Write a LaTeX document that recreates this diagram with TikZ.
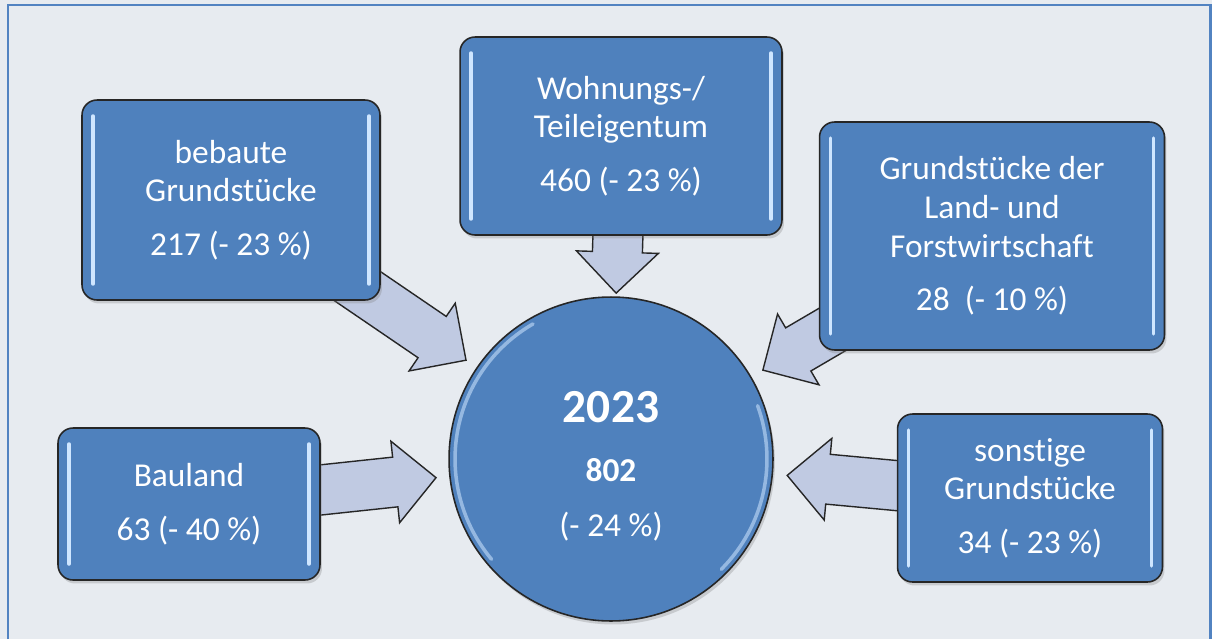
\documentclass[tikz,border=0pt]{standalone}
\usepackage{fontspec}
\setmainfont{Carlito}[Ligatures=NoCommon]
\usetikzlibrary{calc,shadows}
\definecolor{boxblue}{HTML}{4F81BD}
\definecolor{paper}{HTML}{E7EBF0}
\definecolor{framecol}{HTML}{5283C1}
\definecolor{arrowfill}{HTML}{C0CAE2}
\definecolor{glint}{HTML}{CFE6FF}
\pgfdeclarelayer{back}
\pgfdeclarelayer{arrows}
\pgfsetlayers{back,arrows,main}

% fat block arrow from #1 (tail) to #2 (tip)
\newcommand\fatarrow[2]{%
  \draw[blockarr] let \p1=($(#2)-(#1)$), \n1={atan2(\y1,\x1)}, \n2={veclen(\x1,\y1)} in
    (#2) -- ++({\n1+135}:1.16cm) -- ++({\n1-90}:0.32cm)
    -- ++({\n1+180}:{\n2-23.25pt}) -- ++({\n1-90}:1cm)
    -- ++({\n1}:{\n2-23.25pt}) -- ++({\n1-90}:0.32cm) -- cycle;}

\tikzset{
  gloss/.style={draw=glint,line width=2pt,line cap=round},
  box/.style={draw=black!85,line width=0.9pt,rounded corners=0.3cm,fill=boxblue,
    text=white,align=center,font=\fontsize{19}{22}\selectfont,inner sep=0pt,
    drop shadow={shadow xshift=0.04cm,shadow yshift=-0.07cm,opacity=0.3},
    path picture={
      \draw[gloss] ([shift={(0.22cm,-0.32cm)}]path picture bounding box.north west)
        -- ([shift={(0.22cm,0.32cm)}]path picture bounding box.south west);
      \draw[gloss] ([shift={(-0.22cm,-0.32cm)}]path picture bounding box.north east)
        -- ([shift={(-0.22cm,0.32cm)}]path picture bounding box.south east);}},
  hub/.style={circle,draw=black!85,line width=0.9pt,fill=boxblue,minimum size=6.48cm,
    inner sep=0pt,drop shadow={shadow xshift=0.04cm,shadow yshift=-0.07cm,opacity=0.3},
    path picture={
      \draw[gloss,opacity=0.55] (path picture bounding box.center) ++(120:3.12cm)
        arc[start angle=120,end angle=220,radius=3.12cm];
      \draw[gloss,opacity=0.55] (path picture bounding box.center) ++(-45:3.12cm)
        arc[start angle=-45,end angle=20,radius=3.12cm];}},
  hubtext/.style={text=white,align=center,font=\fontsize{19}{22}\selectfont},
  blockarr/.style={fill=arrowfill,draw=black!85,line width=0.8pt,line join=miter},
  frameline/.style={draw=framecol,line width=0.06cm}
}

\begin{document}
\begin{tikzpicture}[x=0.02cm,y=-0.02cm]
\useasboundingbox (0,0) rectangle (1212,639);
\begin{pgfonlayer}{back}
\fill[paper] (0,0) rectangle (1212,639);
\draw[frameline] (8,639) -- (8,5) -- (1210,5) -- (1210,639);
\end{pgfonlayer}

\node[hub] (ctr) at (611,459) {};
\node[hubtext] (ctrtxt) at (611,466) {{\fontsize{27}{32}\selectfont\bfseries 2023}\\[12pt]
  {\bfseries 802}\\[9pt](- 24 \%)};

\node[box,minimum width=5.96cm,minimum height=4cm] (bebaut) at (231,200)
  {bebaute\\Grundstücke\\[0.3cm]217 (- 23 \%)};
\node[box,minimum width=6.44cm,minimum height=3.96cm] (wohn) at (621,136)
  {Wohnungs-/\\Teileigentum\\[0.3cm]460 (- 23 \%)};
\node[box,minimum width=6.9cm,minimum height=4.56cm] (landforst) at (992,236)
  {Grundstücke der\\Land- und\\Forstwirtschaft\\[0.3cm]28\ \ (- 10 \%)};
\node[box,minimum width=5.24cm,minimum height=3.04cm] (bauland) at (189,504)
  {Bauland\\[0.3cm]63 (- 40 \%)};
\node[box,minimum width=5.3cm,minimum height=3.36cm] (sonst) at (1030,498)
  {sonstige\\Grundstücke\\[0.3cm]34 (- 23 \%)};

% arrow tips just off the circle
\coordinate (tbebaut) at ($(ctr)!3.51cm!(bebaut)$);
\coordinate (twohn) at ($(ctr)!3.32cm!(wohn)$);
\coordinate (tland) at ($(ctr)!3.52cm!(landforst)$);
\coordinate (tbau) at ($(ctr)!3.52cm!(bauland)$);
\coordinate (tsonst) at ($(ctr)!3.54cm!(sonst)$);

\begin{pgfonlayer}{arrows}
\fatarrow{bebaut}{tbebaut}
\fatarrow{wohn}{twohn}
\fatarrow{landforst}{tland}
\fatarrow{bauland}{tbau}
\fatarrow{sonst}{tsonst}
\end{pgfonlayer}
\end{tikzpicture}
\end{document}
